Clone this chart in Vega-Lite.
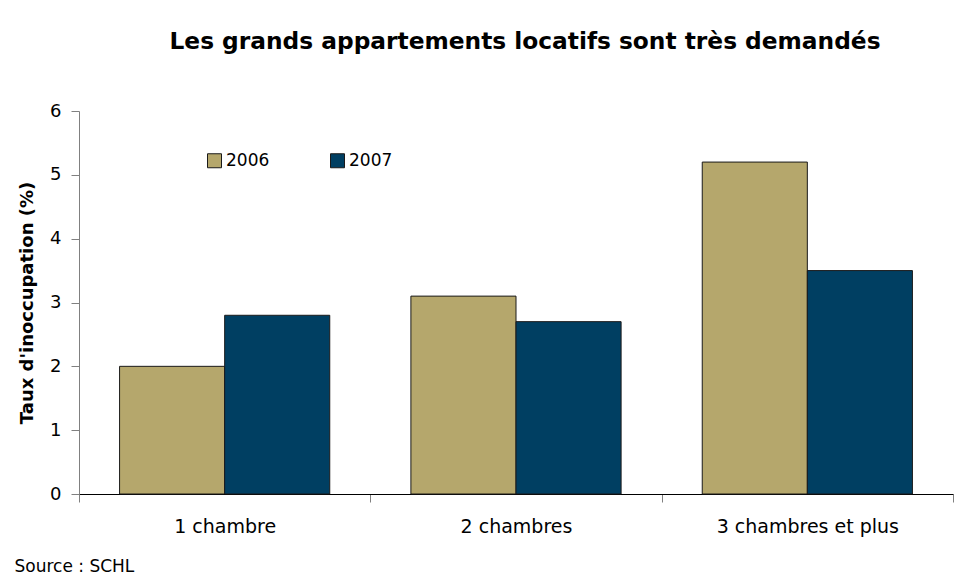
{
  "$schema": "https://vega.github.io/schema/vega-lite/v6.json",
  "width": 874,
  "height": 383,
  "autosize": {"type": "none"},
  "padding": {"left": 79, "top": 111, "right": 10, "bottom": 80},
  "background": "white",
  "title": {
    "text": "Les grands appartements locatifs sont très demandés",
    "font": "DejaVu Sans",
    "fontSize": 23.3,
    "fontWeight": "bold",
    "color": "black",
    "anchor": "middle",
    "dx": 9,
    "offset": 48
  },
  "data": {
    "values": [
      {"type": "1 chambre", "year": "2006", "rate": 2.0},
      {"type": "1 chambre", "year": "2007", "rate": 2.8},
      {"type": "2 chambres", "year": "2006", "rate": 3.1},
      {"type": "2 chambres", "year": "2007", "rate": 2.7},
      {"type": "3 chambres et plus", "year": "2006", "rate": 5.2},
      {"type": "3 chambres et plus", "year": "2007", "rate": 3.5}
    ]
  },
  "mark": {"type": "bar", "stroke": "#1a1a1a", "strokeWidth": 1},
  "encoding": {
    "x": {
      "field": "type",
      "type": "nominal",
      "sort": null,
      "scale": {"paddingInner": 0, "paddingOuter": 0},
      "axis": {
        "title": "Source : SCHL",
        "titleFont": "DejaVu Sans",
        "titleFontSize": 17,
        "titleFontWeight": "normal",
        "titleColor": "black",
        "titleAnchor": "start",
        "titleAlign": "left",
        "titleBaseline": "alphabetic",
        "titleX": -65,
        "titleY": 77,
        "labelAngle": 0,
        "labelFont": "DejaVu Sans",
        "labelFontSize": 19,
        "labelLimit": 400,
        "labelColor": "black",
        "labelPadding": 15,
        "tickBand": "extent",
        "tickSize": 8,
        "tickColor": "#808080",
        "domainColor": "black",
        "grid": false
      }
    },
    "xOffset": {
      "field": "year",
      "type": "nominal",
      "scale": {"paddingInner": 0, "paddingOuter": 0.386}
    },
    "y": {
      "field": "rate",
      "type": "quantitative",
      "scale": {"domain": [0, 6]},
      "axis": {
        "title": "Taux d'inoccupation (%)",
        "titleFont": "DejaVu Sans",
        "titleFontSize": 18,
        "titleFontWeight": "bold",
        "titleColor": "black",
        "titlePadding": 13,
        "values": [0, 1, 2, 3, 4, 5, 6],
        "labelFont": "DejaVu Sans",
        "labelFontSize": 18,
        "labelColor": "black",
        "labelPadding": 10,
        "tickSize": 8,
        "tickColor": "#808080",
        "domainColor": "#808080",
        "grid": false
      }
    },
    "color": {
      "field": "year",
      "type": "nominal",
      "scale": {"domain": ["2006", "2007"], "range": ["#B5A76C", "#003F62"]},
      "legend": {
        "title": null,
        "orient": "none",
        "direction": "horizontal",
        "legendX": 127,
        "legendY": 41,
        "symbolType": "square",
        "symbolSize": 196,
        "symbolStrokeColor": "#1a1a1a",
        "symbolStrokeWidth": 1,
        "symbolOpacity": 1,
        "labelFont": "DejaVu Sans",
        "labelFontSize": 17,
        "labelColor": "black",
        "labelOffset": 3,
        "columnPadding": 58
      }
    }
  },
  "config": {
    "view": {"stroke": null}
  }
}
